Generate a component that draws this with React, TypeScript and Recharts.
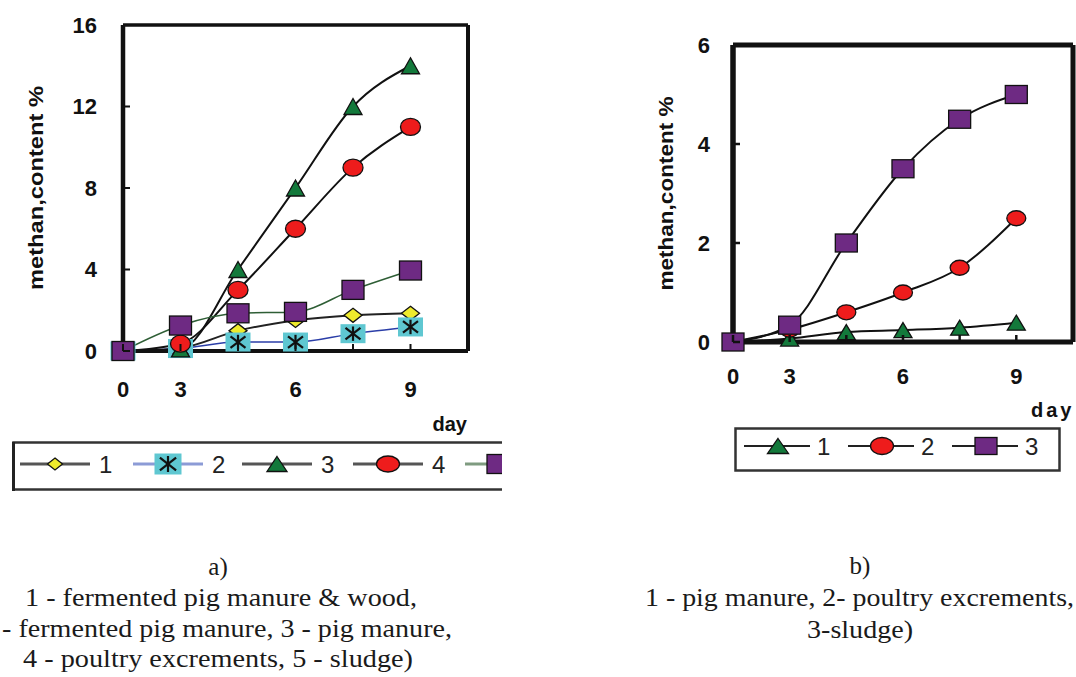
import React from "react";
import { Legend, Line, LineChart, XAxis, YAxis } from "recharts";

const FONT = "'Liberation Sans', Arial, sans-serif";
const SERIF = "'Liberation Serif', 'Times New Roman', serif";

// sampling days (category axis, only some are labelled)
const days = ["0", "3", "4.5", "6", "7.5", "9"];
const dayLabels = ["0", "3", "6", "9"];

// a) methane content, %
const woodPig = [0, 0.15, 1.0, 1.5, 1.75, 1.85];
const fermentedPig = [0, 0.12, 0.44, 0.44, 0.85, 1.18];
const pigA = [0, 0.1, 4, 8, 12, 14];
const poultryA = [0, 0.36, 3, 6, 9, 11];
const sludgeA = [0, 1.25, 1.85, 1.92, 3, 3.95];
const ticksA = [0, 4, 8, 12, 16];

// b) methane content, %
const pigB = [0, 0.07, 0.2, 0.24, 0.29, 0.39];
const poultryB = [0, 0.25, 0.6, 1.0, 1.5, 2.5];
const sludgeB = [0, 0.34, 2.0, 3.5, 4.5, 5.0];
const ticksB = [0, 2, 4, 6];

const dataA = days.map((day, i) => ({
  day,
  s1: woodPig[i],
  s2: fermentedPig[i],
  s3: pigA[i],
  s4: poultryA[i],
  s5: sludgeA[i],
}));

const dataB = days.map((day, i) => ({
  day,
  s1: pigB[i],
  s2: poultryB[i],
  s3: sludgeB[i],
}));

type Kind = "diamond" | "star" | "triangle" | "circle" | "square";

function Mark({ kind, cx, cy, w, h }: { kind: Kind; cx: number; cy: number; w: number; h: number }) {
  const st = { stroke: "#111", strokeWidth: 1.3 };
  if (kind === "diamond") {
    return (
      <polygon
        points={`${cx},${cy - h / 2} ${cx + w / 2},${cy} ${cx},${cy + h / 2} ${cx - w / 2},${cy}`}
        fill="#eeea2c"
        {...st}
      />
    );
  }
  if (kind === "star") {
    const dx = w * 0.3;
    const dy = h * 0.38;
    return (
      <g>
        <rect x={cx - w / 2} y={cy - h / 2} width={w} height={h} fill="#5fc7d1" />
        <g stroke="#111" strokeWidth={2.2}>
          <line x1={cx} y1={cy - dy} x2={cx} y2={cy + dy} />
          <line x1={cx - dx} y1={cy - dy * 0.8} x2={cx + dx} y2={cy + dy * 0.8} />
          <line x1={cx - dx} y1={cy + dy * 0.8} x2={cx + dx} y2={cy - dy * 0.8} />
        </g>
      </g>
    );
  }
  if (kind === "triangle") {
    return (
      <polygon
        points={`${cx},${cy - h / 2} ${cx + w / 2},${cy + h / 2} ${cx - w / 2},${cy + h / 2}`}
        fill="#13793b"
        {...st}
      />
    );
  }
  if (kind === "circle") {
    return <ellipse cx={cx} cy={cy} rx={w / 2} ry={h / 2} fill="#ee1c1c" {...st} />;
  }
  return <rect x={cx - w / 2} y={cy - h / 2} width={w} height={h} fill="#6e2a83" {...st} />;
}

const dotOf = (kind: Kind, w: number, h: number) => (p: any) => (
  <Mark key={`${kind}-${p.index}`} kind={kind} cx={p.cx} cy={p.cy} w={w} h={h} />
);

const textStyle = { fontSize: 22, fontWeight: 700, fill: "#111", fontFamily: FONT };

// bottom tick: small inward mark on the axis + label
function XTick({ x, y, payload, gap, sw }: any) {
  const label = dayLabels.includes(payload.value) ? payload.value : "";
  const axisY = y - gap;
  return (
    <g>
      <line x1={x} x2={x} y1={axisY} y2={axisY - 7} stroke="#111" strokeWidth={sw} />
      <text x={x} y={y} dy="0.71em" textAnchor="middle" {...textStyle}>
        {label}
      </text>
    </g>
  );
}

// left tick: small inward mark on the axis + label
function YTick({ x, y, payload, gap, sw }: any) {
  const axisX = x + gap;
  return (
    <g>
      <line x1={axisX} x2={axisX + 7} y1={y} y2={y} stroke="#111" strokeWidth={sw} />
      <text x={x} y={y} dy="0.355em" textAnchor="end" {...textStyle}>
        {payload.value}
      </text>
    </g>
  );
}

function YTitle({ viewBox, dx, len }: any) {
  const x = viewBox.x + dx;
  const y = viewBox.y + viewBox.height / 2;
  return (
    <text
      x={x}
      y={y}
      transform={`rotate(-90 ${x} ${y})`}
      textAnchor="middle"
      dominantBaseline="central"
      textLength={len}
      lengthAdjust="spacingAndGlyphs"
      fontFamily={FONT}
      fontWeight={700}
      fontSize={21}
      fill="#111"
    >
      methan,content %
    </text>
  );
}

function DayTitle({ viewBox, dx, dy, spacing, anchor }: any) {
  return (
    <text
      x={viewBox.x + viewBox.width + dx}
      y={viewBox.y + dy}
      textAnchor={anchor}
      fontFamily={FONT}
      fontWeight={700}
      fontSize={20}
      letterSpacing={spacing}
      fill="#111"
    >
      day
    </text>
  );
}

function LegendA() {
  const items: { kind: Kind; label: string; color: string; x: number; w: number; h: number }[] = [
    { kind: "diamond", label: "1", color: "#555", x: 8, w: 15, h: 12 },
    { kind: "star", label: "2", color: "#8c9bd6", x: 121, w: 27, h: 21 },
    { kind: "triangle", label: "3", color: "#555", x: 230, w: 20, h: 15 },
    { kind: "circle", label: "4", color: "#555", x: 341, w: 23, h: 16 },
  ];
  return (
    <svg width={490} height={52} style={{ display: "block" }}>
      <rect x={1.5} y={1.5} width={560} height={47} fill="#fff" stroke="#333" strokeWidth={2.5} />
      <line x1={1.5} y1={1} x2={1.5} y2={50} stroke="#222" strokeWidth={3} />
      {items.map((it) => (
        <g key={it.label}>
          <line x1={it.x} y1={23} x2={it.x + 70} y2={23} stroke={it.color} strokeWidth={3} />
          <Mark kind={it.kind} cx={it.x + 35} cy={23} w={it.w} h={it.h} />
          <text x={it.x + 79} y={32} fontFamily={FONT} fontSize={24} fill="#222">
            {it.label}
          </text>
        </g>
      ))}
      {/* entry 5 is cut by the figure's edge */}
      <line x1={453} y1={23} x2={490} y2={23} stroke="#7f9b80" strokeWidth={3} />
      <Mark kind="square" cx={486} cy={23} w={22} h={19} />
    </svg>
  );
}

function LegendB() {
  const items: { kind: Kind; label: string; x: number; w: number; h: number }[] = [
    { kind: "triangle", label: "1", x: 10, w: 21, h: 15 },
    { kind: "circle", label: "2", x: 114, w: 23, h: 17 },
    { kind: "square", label: "3", x: 218, w: 22, h: 17 },
  ];
  return (
    <svg width={328} height={46} style={{ display: "block" }}>
      <rect x={1.5} y={1.5} width={324} height={42} fill="#fff" stroke="#333" strokeWidth={2.5} />
      {items.map((it) => (
        <g key={it.label}>
          <line x1={it.x} y1={19} x2={it.x + 66} y2={19} stroke="#222" strokeWidth={2.2} />
          <Mark kind={it.kind} cx={it.x + 34} cy={19} w={it.w} h={it.h} />
          <text x={it.x + 73} y={28} fontFamily={FONT} fontSize={24} fill="#222">
            {it.label}
          </text>
        </g>
      ))}
    </svg>
  );
}

function ChartA() {
  return (
    <LineChart width={502} height={520} data={dataA} margin={{ top: 24, right: 33, left: 63, bottom: 109 }}>
      <XAxis
        dataKey="day"
        height={60}
        interval={0}
        padding={{ left: 0, right: 57.5 }}
        tickLine={false}
        tickMargin={24}
        tick={<XTick gap={30} sw={2} />}
        axisLine={{ stroke: "#111", strokeWidth: 4 }}
        label={<DayTitle dx={-1} dy={80} spacing={0} anchor="end" />}
      />
      <XAxis xAxisId="top" orientation="top" dataKey="day" height={1} tick={false} tickLine={false} axisLine={{ stroke: "#111", strokeWidth: 3.5 }} />
      <YAxis
        domain={[0, 16]}
        ticks={ticksA}
        width={60}
        tickLine={false}
        tickMargin={20}
        tick={<YTick gap={26} sw={2} />}
        axisLine={{ stroke: "#111", strokeWidth: 4.5 }}
        label={<YTitle dx={-28} len={204} />}
      />
      <YAxis yAxisId="right" orientation="right" domain={[0, 16]} width={1} tick={false} tickLine={false} axisLine={{ stroke: "#111", strokeWidth: 4 }} />
      <Legend
        layout="horizontal"
        verticalAlign="middle"
        align="center"
        wrapperStyle={{ left: 12, top: 441, width: 490, height: 52 }}
        content={() => <LegendA />}
      />
      <Line type="monotone" dataKey="s1" stroke="#222" strokeWidth={2} dot={dotOf("diamond", 18, 14)} activeDot={false} isAnimationActive={false} />
      <Line type="monotone" dataKey="s2" stroke="#2b3ea8" strokeWidth={1.5} dot={dotOf("star", 25, 19)} activeDot={false} isAnimationActive={false} />
      <Line type="monotone" dataKey="s3" stroke="#111" strokeWidth={2} dot={dotOf("triangle", 18, 16)} activeDot={false} isAnimationActive={false} />
      <Line type="monotone" dataKey="s4" stroke="#111" strokeWidth={2} dot={dotOf("circle", 20, 17)} activeDot={false} isAnimationActive={false} />
      <Line type="monotone" dataKey="s5" stroke="#2e5e35" strokeWidth={1.5} dot={dotOf("square", 22, 19)} activeDot={false} isAnimationActive={false} />
    </LineChart>
  );
}

function ChartB() {
  return (
    <LineChart width={490} height={520} data={dataB} margin={{ top: 44, right: 16, left: 73, bottom: 118 }}>
      <XAxis
        dataKey="day"
        height={60}
        interval={0}
        padding={{ left: 0, right: 56.7 }}
        tickLine={false}
        tickMargin={20}
        tick={<XTick gap={26} sw={2.5} />}
        axisLine={{ stroke: "#111", strokeWidth: 5 }}
        label={<DayTitle dx={-42} dy={75} spacing={3} anchor="start" />}
      />
      <XAxis xAxisId="top" orientation="top" dataKey="day" height={1} tick={false} tickLine={false} axisLine={{ stroke: "#111", strokeWidth: 5 }} />
      <YAxis
        domain={[0, 6]}
        ticks={ticksB}
        width={60}
        tickLine={false}
        tickMargin={17}
        tick={<YTick gap={23} sw={2.5} />}
        axisLine={{ stroke: "#111", strokeWidth: 5.5 }}
        label={<YTitle dx={-8} len={194} />}
      />
      <YAxis yAxisId="right" orientation="right" domain={[0, 6]} width={1} tick={false} tickLine={false} axisLine={{ stroke: "#111", strokeWidth: 5 }} />
      <Legend
        layout="horizontal"
        verticalAlign="middle"
        align="center"
        wrapperStyle={{ left: 134, top: 427, width: 328, height: 46 }}
        content={() => <LegendB />}
      />
      <Line type="monotone" dataKey="s1" stroke="#111" strokeWidth={2} dot={dotOf("triangle", 18, 15)} activeDot={false} isAnimationActive={false} />
      <Line type="monotone" dataKey="s2" stroke="#111" strokeWidth={2} dot={dotOf("circle", 19, 15)} activeDot={false} isAnimationActive={false} />
      <Line type="monotone" dataKey="s3" stroke="#111" strokeWidth={2} dot={dotOf("square", 22, 18)} activeDot={false} isAnimationActive={false} />
    </LineChart>
  );
}

function Captions() {
  const t = { fontFamily: SERIF, fontSize: 25, fill: "#1a1a1a" };
  return (
    <svg width={1076} height={677} style={{ position: "absolute", left: 0, top: 0, pointerEvents: "none" }}>
      <text x={218} y={575} textAnchor="middle" {...t}>a)</text>
      <text x={25} y={606} textLength={392} lengthAdjust="spacingAndGlyphs" {...t}>1 - fermented pig manure &amp; wood,</text>
      <text x={-19} y={637} textLength={471} lengthAdjust="spacingAndGlyphs" {...t}>2 - fermented pig manure, 3 - pig manure,</text>
      <text x={23} y={667} textLength={390} lengthAdjust="spacingAndGlyphs" {...t}>4 - poultry excrements, 5 - sludge)</text>
      <text x={860} y={574} textAnchor="middle" {...t}>b)</text>
      <text x={645} y={606} textLength={429} lengthAdjust="spacingAndGlyphs" {...t}>1 - pig manure, 2- poultry excrements,</text>
      <text x={807} y={638} textLength={106} lengthAdjust="spacingAndGlyphs" {...t}>3-sludge)</text>
    </svg>
  );
}

export default function App() {
  return (
    <div style={{ position: "absolute", left: 0, top: 0, width: 1076, height: 677, overflow: "hidden", background: "#fff" }}>
      <div style={{ position: "absolute", left: 0, top: 0, width: 502, height: 520, overflow: "hidden" }}>
        <ChartA />
      </div>
      <div style={{ position: "absolute", left: 600, top: 0, width: 476, height: 520, overflow: "hidden" }}>
        <ChartB />
      </div>
      <Captions />
    </div>
  );
}
